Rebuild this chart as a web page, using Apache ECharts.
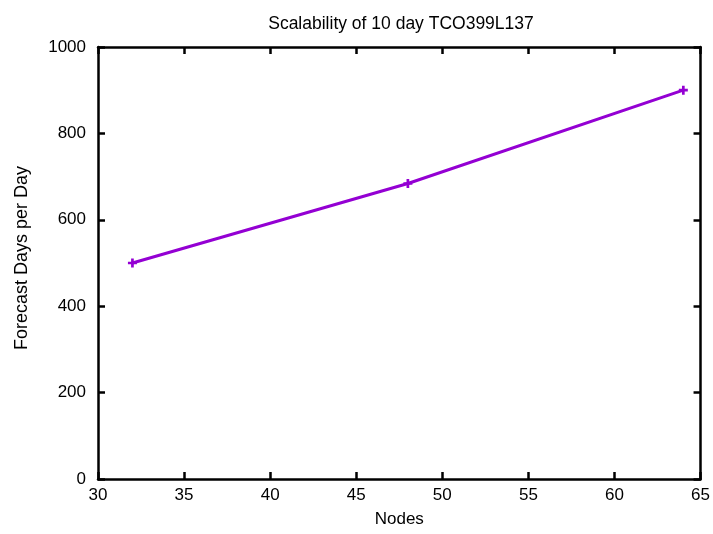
<!DOCTYPE html>
<html><head><meta charset="utf-8">
<script src="https://cdn.jsdelivr.net/npm/echarts@6/dist/echarts.min.js"></script>
<style>html,body{margin:0;padding:0;background:#fff}#c{width:713px;height:534px}</style>
</head><body><div id="c"></div>
<script>
const nodes = [32, 48, 64];
const forecastDaysPerDay = [500, 684, 900];
const xTicks = [30, 35, 40, 45, 50, 55, 60, 65];
const yTicks = [0, 200, 400, 600, 800, 1000];

const chart = echarts.init(document.getElementById('c'));
const font = 'Liberation Sans, Arial, sans-serif';
const axisCommon = {
  axisLine: {show: true, onZero: false, lineStyle: {color: '#000', width: 2.5}},
  axisTick: {show: true, inside: true, length: 7, lineStyle: {color: '#000', width: 2.5}},
  splitLine: {show: false}
};
chart.setOption({
  animation: false,
  title: {text: 'Scalability of 10 day TCO399L137', left: 396, top: 10, textAlign: 'center',
    textStyle: {fontFamily: font, fontSize: 17.5, fontWeight: 'normal', color: '#000'}},
  grid: {left: 98, right: 10, top: 47, bottom: 55},
  xAxis: [
    Object.assign({type: 'value', min: xTicks[0], max: xTicks[xTicks.length - 1], interval: 5, position: 'bottom',
      name: 'Nodes', nameLocation: 'middle', nameGap: 32,
      nameTextStyle: {fontFamily: font, fontSize: 17, color: '#000'},
      axisLabel: {fontFamily: font, fontSize: 17, color: '#000', margin: 8}}, axisCommon),
    Object.assign({type: 'value', min: xTicks[0], max: xTicks[xTicks.length - 1], interval: 5, position: 'top',
      axisLabel: {show: false}}, axisCommon)
  ],
  yAxis: [
    Object.assign({type: 'value', min: yTicks[0], max: yTicks[yTicks.length - 1], interval: 200, position: 'left',
      name: 'Forecast Days per Day', nameLocation: 'middle', nameGap: 67,
      nameTextStyle: {fontFamily: font, fontSize: 18, color: '#000', padding: [0, 0, 0, 10]},
      axisLabel: {fontFamily: font, fontSize: 17, color: '#000', margin: 12, formatter: v => String(v)}}, axisCommon),
    Object.assign({type: 'value', min: yTicks[0], max: yTicks[yTicks.length - 1], interval: 200, position: 'right',
      axisLabel: {show: false}}, axisCommon)
  ],
  series: [{
    type: 'line',
    data: nodes.map((n, i) => [n, forecastDaysPerDay[i]]),
    symbol: 'path://M-1,-0.3L-0.3,-0.3L-0.3,-1L0.3,-1L0.3,-0.3L1,-0.3L1,0.3L0.3,0.3L0.3,1L-0.3,1L-0.3,0.3L-1,0.3Z',
    symbolSize: 9,
    lineStyle: {color: '#9400D3', width: 3},
    itemStyle: {color: '#9400D3'}
  }]
});
</script></body></html>
